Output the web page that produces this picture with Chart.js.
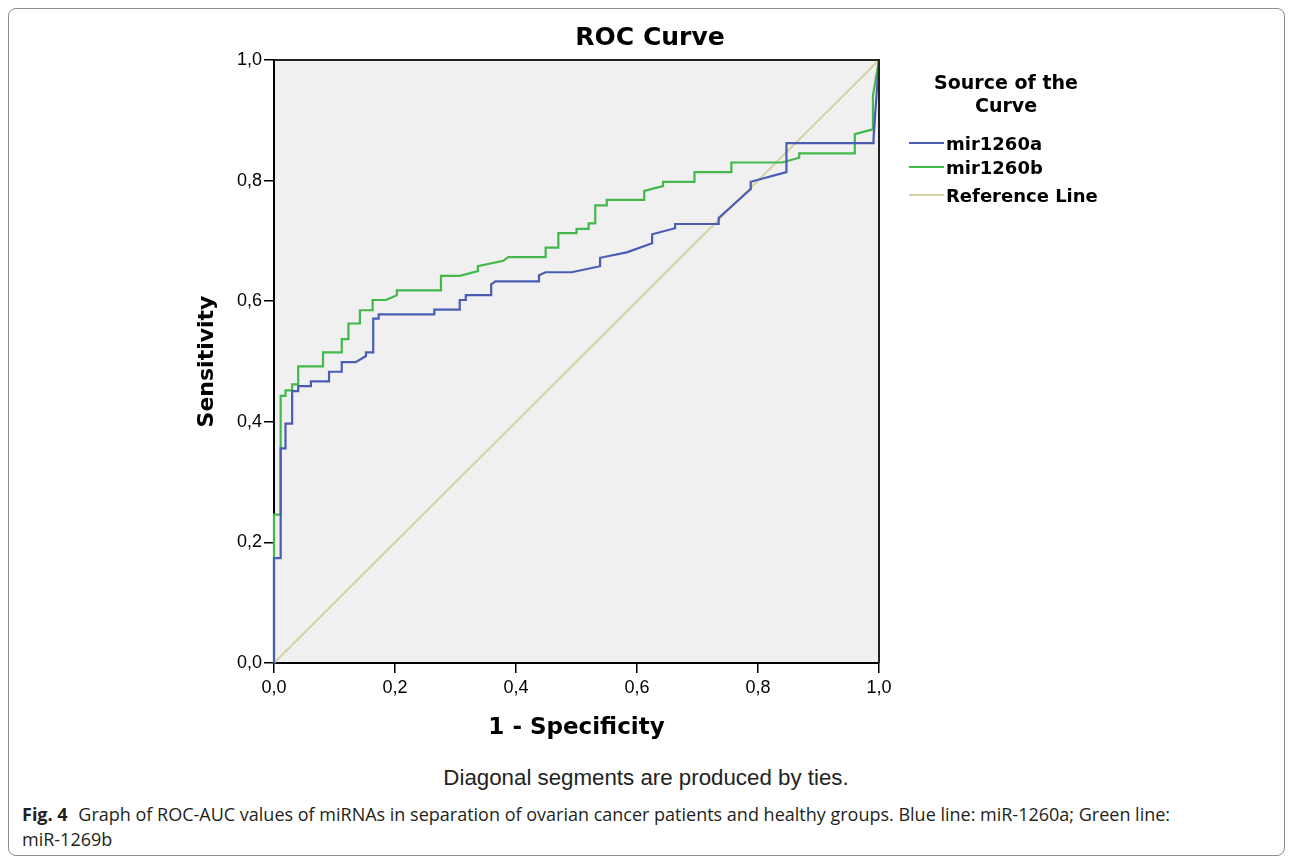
<!DOCTYPE html>
<html>
<head>
<meta charset="utf-8">
<title>ROC Curve</title>
<script src="https://cdn.jsdelivr.net/npm/chart.js@4.4.0/dist/chart.umd.min.js"></script>
<style>
  body {
    margin: 0;
    width: 1292px;
    height: 864px;
    position: relative;
    overflow: hidden;
    background: #fff;
    font-family: "Liberation Sans", Arial, sans-serif;
    color: #000;
  }
  #frame {
    position: absolute;
    left: 8px;
    top: 8px;
    width: 1275px;
    height: 846px;
    border: 1px solid #8c8c8c;
    border-radius: 8px;
  }
  #rocChart { position: absolute; left: 0; top: 0; }
  #title {
    position: absolute;
    left: 500px;
    width: 300px;
    top: 22px;
    text-align: center;
    font: bold 25px "DejaVu Sans", sans-serif;
    line-height: 30px;
  }
  #legend { position: absolute; left: 0; top: 0; }
  #legend .head {
    position: absolute;
    left: 906px;
    width: 200px;
    top: 71px;
    text-align: center;
    font: bold 19px "DejaVu Sans", sans-serif;
    line-height: 23px;
  }
  #legend .item {
    position: absolute;
    left: 909px;
    height: 24px;
    display: flex;
    align-items: center;
    font: bold 18px "DejaVu Sans", sans-serif;
    white-space: nowrap;
  }
  #legend .swatch {
    display: inline-block;
    width: 35px;
    height: 0;
    border-top: 2.5px solid;
    margin-right: 2px;
  }
  #note {
    position: absolute;
    left: 0;
    width: 1292px;
    top: 765px;
    text-align: center;
    font-size: 22.3px;
    line-height: 26px;
    color: #222;
  }
  #caption {
    position: absolute;
    left: 22px;
    top: 802px;
    font: 18px "Open Sans", sans-serif;
    line-height: 25px;
    color: #231f20;
  }
  #caption b { font-weight: 700; margin-right: 6px; }
</style>
</head>
<body>
<div id="frame"></div>
<canvas id="rocChart" width="1292" height="760" style="width:1292px;height:760px"></canvas>
<div id="title">ROC Curve</div>
<div id="legend"></div>
<div id="note">Diagonal segments are produced by ties.</div>
<div id="caption"><b>Fig. 4</b> Graph of ROC-AUC values of miRNAs in separation of ovarian cancer patients and healthy groups. Blue line: miR-1260a; Green line:<br>miR-1269b</div>

<script>
// ---- data (1 - specificity / sensitivity) ----
const mirAFpr = [0, 0, 0.011, 0.011, 0.019, 0.019, 0.030, 0.030, 0.040, 0.040, 0.061, 0.061,
  0.091, 0.091, 0.112, 0.112, 0.135, 0.152, 0.152, 0.164, 0.164, 0.173, 0.173, 0.265, 0.265,
  0.307, 0.307, 0.317, 0.317, 0.359, 0.359, 0.366, 0.438, 0.438, 0.449, 0.492, 0.539, 0.539,
  0.583, 0.625, 0.625, 0.663, 0.663, 0.735, 0.735, 0.788, 0.788, 0.847, 0.847, 0.991, 0.991, 1];
const mirATpr = [0, 0.174, 0.174, 0.356, 0.356, 0.397, 0.397, 0.451, 0.451, 0.459, 0.459, 0.467,
  0.467, 0.483, 0.483, 0.499, 0.499, 0.509, 0.515, 0.515, 0.571, 0.571, 0.578, 0.578, 0.586,
  0.586, 0.602, 0.602, 0.610, 0.610, 0.628, 0.633, 0.633, 0.643, 0.648, 0.648, 0.658, 0.672,
  0.681, 0.696, 0.711, 0.721, 0.728, 0.728, 0.738, 0.786, 0.798, 0.814, 0.862, 0.862, 0.871, 1];

const mirBFpr = [0, 0, 0.011, 0.011, 0.019, 0.019, 0.030, 0.030, 0.040, 0.040, 0.081, 0.081,
  0.112, 0.112, 0.123, 0.123, 0.142, 0.142, 0.163, 0.163, 0.185, 0.203, 0.203, 0.276, 0.276,
  0.307, 0.337, 0.337, 0.379, 0.387, 0.449, 0.449, 0.470, 0.470, 0.500, 0.500, 0.520, 0.520,
  0.531, 0.531, 0.550, 0.550, 0.612, 0.612, 0.643, 0.643, 0.695, 0.695, 0.756, 0.756, 0.840,
  0.868, 0.868, 0.960, 0.960, 0.990, 0.990, 1];
const mirBTpr = [0, 0.246, 0.246, 0.443, 0.443, 0.452, 0.452, 0.462, 0.462, 0.492, 0.492, 0.515,
  0.515, 0.537, 0.537, 0.563, 0.563, 0.585, 0.585, 0.602, 0.602, 0.610, 0.618, 0.618, 0.642,
  0.642, 0.650, 0.658, 0.667, 0.673, 0.673, 0.689, 0.689, 0.713, 0.713, 0.720, 0.720, 0.729,
  0.729, 0.759, 0.759, 0.768, 0.768, 0.783, 0.791, 0.798, 0.798, 0.814, 0.814, 0.830, 0.830,
  0.838, 0.845, 0.845, 0.877, 0.885, 0.941, 1];

const refFpr = [0, 1];
const refTpr = [0, 1];

const seriesNames = ["mir1260a", "mir1260b", "Reference Line"];
const seriesColors = ["#4a5db3", "#43b84b", "#d5d2a2"];

// ---- helpers ----
function toPoints(xs, ys) {
  return xs.map((x, i) => ({ x: x, y: ys[i] }));
}
function commaTick(v) {
  return Number(v).toFixed(1).replace(".", ",");
}

// background of the plot + top/right frame
const plotFrame = {
  id: "plotFrame",
  beforeDraw(chart) {
    const a = chart.chartArea;
    const ctx = chart.ctx;
    ctx.save();
    ctx.fillStyle = "#f0f0f0";
    ctx.fillRect(a.left, a.top, a.right - a.left, a.bottom - a.top);
    ctx.restore();
  },
  afterDraw(chart) {
    const a = chart.chartArea;
    const ctx = chart.ctx;
    ctx.save();
    ctx.strokeStyle = "#222";
    ctx.lineWidth = 2;
    ctx.beginPath();
    ctx.moveTo(a.left, a.top);
    ctx.lineTo(a.right, a.top);
    ctx.lineTo(a.right, a.bottom);
    ctx.stroke();
    ctx.restore();
  },
};

const axisTicks = {
  stepSize: 0.2,
  color: "#000",
  font: { family: "'Liberation Sans', Arial, sans-serif", size: 18 },
  callback: commaTick,
};

new Chart(document.getElementById("rocChart"), {
  type: "scatter",
  data: {
    datasets: [
      {
        label: seriesNames[2],
        data: toPoints(refFpr, refTpr),
        borderColor: seriesColors[2],
        borderWidth: 2,
        order: 3,
      },
      {
        label: seriesNames[1],
        data: toPoints(mirBFpr, mirBTpr),
        borderColor: seriesColors[1],
        borderWidth: 2.2,
        order: 2,
      },
      {
        label: seriesNames[0],
        data: toPoints(mirAFpr, mirATpr),
        borderColor: seriesColors[0],
        borderWidth: 2.2,
        order: 1,
      },
    ].map((d) => Object.assign(d, { showLine: true, pointRadius: 0, tension: 0, clip: 4 })),
  },
  options: {
    responsive: false,
    animation: false,
    devicePixelRatio: 1,
    layout: { padding: { left: 0, top: 60, right: 413, bottom: 0 } },
    plugins: {
      legend: { display: false },
      tooltip: { enabled: false },
      title: { display: false },
    },
    scales: {
      x: {
        type: "linear",
        min: 0,
        max: 1,
        ticks: Object.assign({ padding: 4, maxRotation: 0 }, axisTicks),
        grid: { drawOnChartArea: false, drawTicks: true, tickLength: 10, tickColor: "#000", lineWidth: 1.5 },
        border: { display: true, color: "#000", width: 2 },
        title: {
          display: true,
          text: "1 - Specificity",
          color: "#000",
          font: { family: "'DejaVu Sans', sans-serif", size: 23, weight: "bold" },
          padding: { top: 0, bottom: 18 },
        },
        afterFit(scale) { scale.height = 97; },
      },
      y: {
        type: "linear",
        min: 0,
        max: 1,
        ticks: Object.assign({ padding: 2 }, axisTicks),
        grid: { drawOnChartArea: false, drawTicks: true, tickLength: 10, tickColor: "#000", lineWidth: 1.5 },
        border: { display: true, color: "#000", width: 2 },
        title: {
          display: true,
          text: "Sensitivity",
          color: "#000",
          font: { family: "'DejaVu Sans', sans-serif", size: 22, weight: "bold" },
          padding: { top: 194, bottom: 0 },
        },
        afterFit(scale) { scale.width = 274; },
      },
    },
  },
  plugins: [plotFrame],
});

// ---- legend (html) ----
const legend = document.getElementById("legend");
const head = document.createElement("div");
head.className = "head";
head.innerHTML = "Source of the<br>Curve";
legend.appendChild(head);

const legendRowTops = [131, 155, 183];
seriesNames.forEach((name, i) => {
  const row = document.createElement("div");
  row.className = "item";
  row.style.top = legendRowTops[i] + "px";
  const sw = document.createElement("span");
  sw.className = "swatch";
  sw.style.borderColor = seriesColors[i];
  row.appendChild(sw);
  row.appendChild(document.createTextNode(name));
  legend.appendChild(row);
});
</script>
</body>
</html>
